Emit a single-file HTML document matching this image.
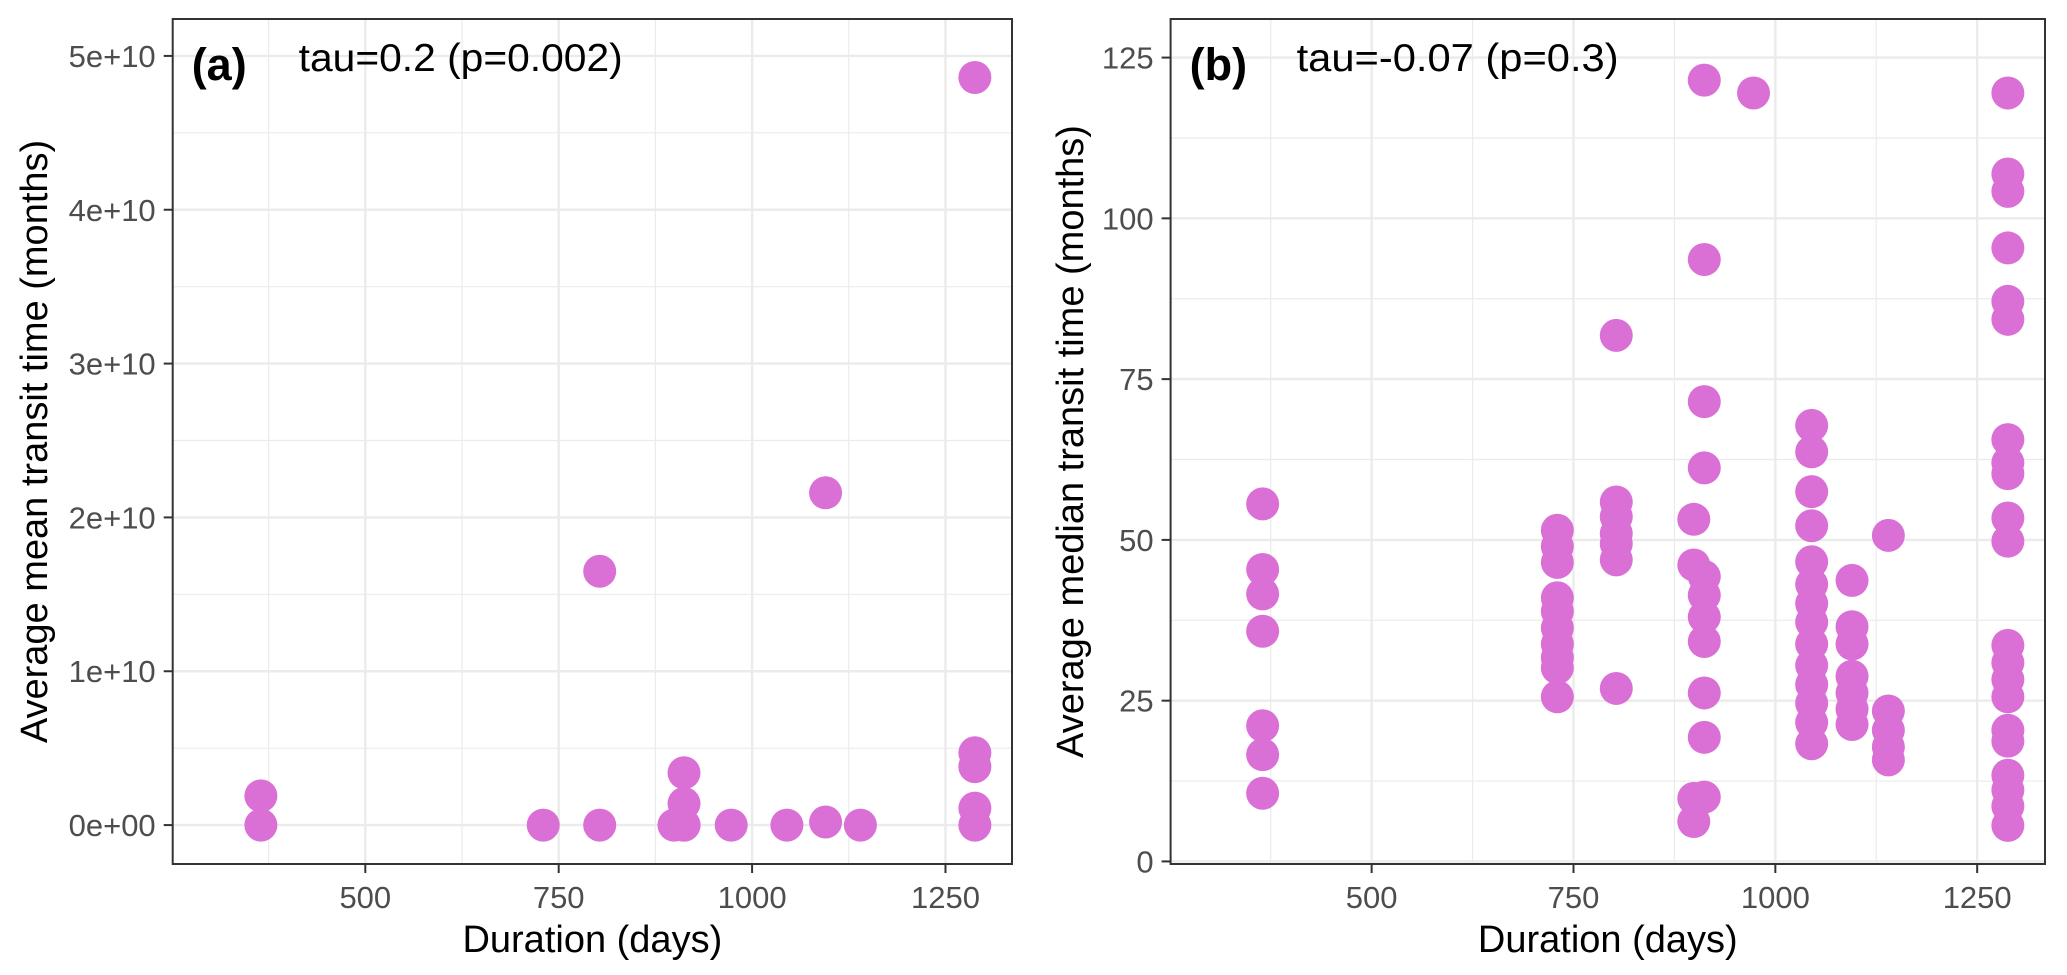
<!DOCTYPE html>
<html><head><meta charset="utf-8"><style>
html,body{margin:0;padding:0;background:#fff;}
svg{display:block;font-family:"Liberation Sans",sans-serif;}
</style></head><body>
<svg id="chart" width="2067" height="975" viewBox="0 0 2067 975" xmlns="http://www.w3.org/2000/svg">
<rect width="2067" height="975" fill="#fff"/>
</svg>
<script>
// Panel (a) data
const aDuration = [365,365,730,803,803,899,912,912,912,912,973,1045,1095,1095,1140,1288,1288,1288,1288,1288];
const aMean = [0.19e10,0,0,1.65e10,0,0,0.34e10,0.14e10,0,0,0,0,0.02e10,2.16e10,0,4.86e10,0.47e10,0.38e10,0.11e10,0];
const aYTicks = [0,1e10,2e10,3e10,4e10,5e10];
const aYTickLabels = ["0e+00","1e+10","2e+10","3e+10","4e+10","5e+10"];
// Panel (b) data
const bDuration = [
 365,365,365,365,365,365,365,
 730,730,730,730,730,730,730,730,730,730,
 803,803,803,803,803,803,803,
 899,899,899,899,
 912,912,912,912,912,912,912,912,912,912,912,
 973,
 1045,1045,1045,1045,1045,1045,1045,1045,1045,1045,1045,1045,1045,1045,
 1095,1095,1095,1095,1095,1095,1095,
 1140,1140,1140,1140,1140,
 1288,1288,1288,1288,1288,1288,1288,1288,1288,1288,1288,1288,1288,1288,1288,1288,1288,1288,1288,1288,1288];
const bMedian = [
 55.6,45.4,41.6,35.8,21.1,16.6,10.6,
 51.5,49,46.5,41,38.9,36.3,33.8,31.7,30.1,25.6,
 81.8,55.9,53.6,51,49.4,46.9,26.9,
 53.2,46.1,9.8,6.2,
 121.5,93.6,71.5,61.2,44.3,41.4,38,34.2,26.2,19.3,10,
 119.5,
 67.8,63.7,57.5,52.2,46.6,43.1,40.1,37.2,33.8,30.5,27.5,24.6,21.6,18.3,
 43.7,36.5,33.8,28.8,26.2,23.7,21.3,
 50.7,23.4,20.4,17.8,15.8,
 119.5,106.9,104.2,95.4,87.1,84.3,65.6,62,60.3,53.4,49.8,33.6,30.9,28.3,25.6,20.4,18.7,13.4,11.1,8.6,5.6];
const bYTicks = [0,25,50,75,100,125];
const bYTickLabels = ["0","25","50","75","100","125"];
const xTicks = [500,750,1000,1250];
const xTickLabels = ["500","750","1000","1250"];
const xMinor = [375,625,875,1125];

const NS="http://www.w3.org/2000/svg";
const svg=document.getElementById('chart');
function mk(tag,attrs,parent){const e=document.createElementNS(NS,tag);for(const k in attrs)e.setAttribute(k,attrs[k]);(parent||svg).appendChild(e);return e;}

function panel(cfg){
  const {L,R,T,B,xd,yd,xs,ys,yTicks,yLabels,yMinor,tag,stat,statLen,ytitle,ytitleX,name}=cfg;
  const g=mk('g',{});
  
  
  const sx=v=>L+(v-xd[0])/(xd[1]-xd[0])*(R-L);
  const sy=v=>B-(v-yd[0])/(yd[1]-yd[0])*(B-T);
  yMinor.forEach(v=>{const l=mk('line',{x1:L,x2:R,y1:sy(v),y2:sy(v),stroke:'#ebebeb','stroke-width':1.2},g);
    
    });
  xMinor.forEach(v=>{const l=mk('line',{x1:sx(v),x2:sx(v),y1:T,y2:B,stroke:'#ebebeb','stroke-width':1.2},g);
    
    });
  yTicks.forEach(v=>{const l=mk('line',{x1:L,x2:R,y1:sy(v),y2:sy(v),stroke:'#ebebeb','stroke-width':2.4},g);
    
    });
  xTicks.forEach(v=>{const l=mk('line',{x1:sx(v),x2:sx(v),y1:T,y2:B,stroke:'#ebebeb','stroke-width':2.4},g);
    
    });
  xs.forEach((d,i)=>{const c=mk('circle',{cx:sx(d),cy:sy(ys[i]),r:16.5,fill:'#DA70D6'},g);
    
    });
  const br=mk('rect',{x:L,y:T,width:R-L,height:B-T,fill:'none',stroke:'#333','stroke-width':2},g);
  
  
  yTicks.forEach((v,i)=>{
    const t=mk('line',{x1:L-9,x2:L,y1:sy(v),y2:sy(v),stroke:'#333','stroke-width':2},g);
    
    
    const tx=mk('text',{x:L-17,y:sy(v)+11,'text-anchor':'end','font-size':31,fill:'#4d4d4d'},g);
    tx.textContent=yLabels[i];
    
    
  });
  xTicks.forEach((v,i)=>{
    const t=mk('line',{x1:sx(v),x2:sx(v),y1:B,y2:B+9,stroke:'#333','stroke-width':2},g);
    
    
    const tx=mk('text',{x:sx(v),y:B+44,'text-anchor':'middle','font-size':31,fill:'#4d4d4d'},g);
    tx.textContent=xTickLabels[i];
    
    
  });
  const xt=mk('text',{x:(L+R)/2,y:952,'text-anchor':'middle','font-size':38,fill:'#000'},g);
  xt.textContent='Duration (days)';
  
  
  const yt=mk('text',{x:0,y:0,'text-anchor':'middle','font-size':38,fill:'#000',transform:`translate(${ytitleX},${(T+B)/2}) rotate(-90)`},g);
  yt.textContent=ytitle;
  
  
  const pt=mk('text',{x:L+19,y:80,'font-size':45,'font-weight':'bold',fill:'#000'},g);
  pt.textContent=tag;
  
  
  const st=mk('text',{x:L+126,y:71,'font-size':39,fill:'#000',textLength:statLen,lengthAdjust:'spacingAndGlyphs'},g);
  st.textContent=stat;
  
  
}

panel({L:172.7,R:1012,T:19,B:864,xd:[251,1336],yd:[-0.253e10,5.24e10],xs:aDuration,ys:aMean,
  yTicks:aYTicks,yLabels:aYTickLabels,yMinor:[0.5e10,1.5e10,2.5e10,3.5e10,4.5e10],
  tag:'(a)',stat:'tau=0.2 (p=0.002)',statLen:324,ytitle:'Average mean transit time (months)',ytitleX:47,name:'panel-a'});
panel({L:1170.6,R:2045,T:19,B:864,xd:[251,1334],yd:[-0.4,131],xs:bDuration,ys:bMedian,
  yTicks:bYTicks,yLabels:bYTickLabels,yMinor:[12.5,37.5,62.5,87.5,112.5],
  tag:'(b)',stat:'tau=-0.07 (p=0.3)',statLen:322,ytitle:'Average median transit time (months)',ytitleX:1083,name:'panel-b'});
</script>
</body></html>
